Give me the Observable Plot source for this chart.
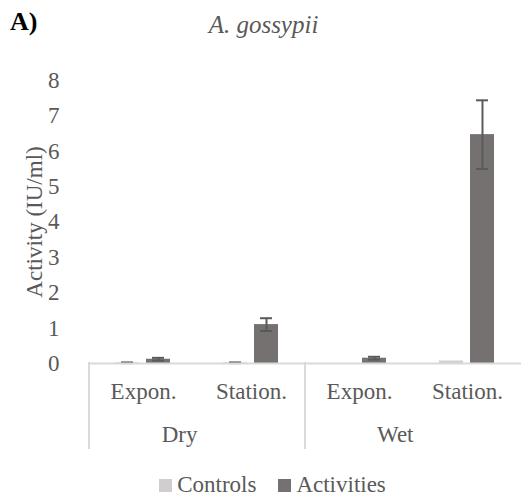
<!DOCTYPE html>
<html>
<head>
<meta charset="utf-8">
<script src="https://cdn.jsdelivr.net/npm/d3@7"></script>
<script src="https://cdn.jsdelivr.net/npm/@observablehq/plot@0.6"></script>
<style>
  html, body { margin: 0; padding: 0; background: #fff; overflow: hidden; }
  #wrap { width: 521px; height: 503px; position: relative; font-family: 'Liberation Serif', 'DejaVu Serif', serif; color: #595959; }
  #head { height: 50px; position: relative; }
  #panel { position: absolute; left: 10px; top: 9px; font-size: 26px; line-height: 26px; font-weight: bold; color: #000; }
  #title { position: absolute; left: 3px; width: 521px; top: 12px; font-size: 25px; line-height: 25px; font-style: italic; text-align: center; color: #595959; }
  #chart svg { display: block; overflow: visible; }
  #chart svg text { font-family: 'Liberation Serif', 'DejaVu Serif', serif; }
  #legend { height: 43px; display: flex; justify-content: center; align-items: flex-start; padding-left: 24px; box-sizing: border-box; padding-top: 13px; }
  .item { display: flex; align-items: center; font-size: 23px; line-height: 23px; margin: 0 11px; }
  .sw { width: 13px; height: 13px; margin-right: 5px; margin-top: 2px; }
</style>
</head>
<body>
<div id="wrap">
  <div id="head"><div id="panel">A)</div><div id="title">A. gossypii</div></div>
  <div id="chart"></div>
  <div id="legend"></div>
</div>
<script>
// ---- data ----
const groups = ["Dry", "Wet"];
const phases = ["Expon.", "Station."];
const series = ["Controls", "Activities"];
// order: Dry-Expon., Dry-Station., Wet-Expon., Wet-Station.
const controlsMean = [0.02, 0.02, 0.00, 0.07];
const controlsErr = [0.01, 0.01, 0.00, 0.00];
const activitiesMean = [0.12, 1.10, 0.15, 6.47];
const activitiesErr = [0.04, 0.18, 0.04, 0.97];
const yTicks = [0, 1, 2, 3, 4, 5, 6, 7, 8];
const yLabel = "Activity (IU/ml)";
const colors = ["#d0cece", "#767171"];

// ---- build table ----
const keys = [];
groups.forEach(g => phases.forEach(p => keys.push(g + "|" + p)));
const rows = [];
keys.forEach((k, i) => {
  rows.push({key: k, series: "Controls", value: controlsMean[i], err: controlsErr[i]});
  rows.push({key: k, series: "Activities", value: activitiesMean[i], err: activitiesErr[i]});
});
const errRows = rows.filter(d => d.err > 0).map(d => ({...d, lo: d.value - d.err, hi: d.value + d.err}));
const groupFirst = groups.map(g => ({key: g + "|" + phases[0], label: g}));

const textColor = "#595959";
const axisGrey = "#d9d9d9";
const serif = "'Liberation Serif', 'DejaVu Serif', serif";

const plot = Plot.plot({
  width: 521,
  height: 410,
  marginTop: 30,
  marginBottom: 97,
  marginLeft: 89,
  marginRight: 0,
  style: {fontFamily: serif, fontSize: "23px", color: textColor, background: "transparent"},
  fx: {domain: keys, padding: 0, axis: null},
  x: {domain: series, paddingInner: 0.22, paddingOuter: 0.84, axis: null},
  y: {domain: [0, 8], axis: null},
  color: {domain: series, range: colors},
  marks: [
    Plot.axisY({ticks: yTicks, tickSize: 0, tickPadding: 30, label: yLabel, labelAnchor: "center", labelOffset: 64, labelArrow: "none", fontSize: 23, fontFamily: serif}),
    Plot.axisFx({anchor: "bottom", tickSize: 0, tickPadding: 19, tickFormat: d => d.split("|")[1], label: null, fontSize: 23, fontFamily: serif}),
    Plot.barY(rows, {fx: "key", x: "series", y: "value", fill: "series"}),
    Plot.ruleX(errRows, {fx: "key", x: "series", y1: "lo", y2: "hi", stroke: "#5a5a5a", strokeWidth: 2}),
    Plot.tickY(errRows, {fx: "key", x: "series", y: "lo", stroke: "#5a5a5a", strokeWidth: 2, insetLeft: 6, insetRight: 6}),
    Plot.tickY(errRows, {fx: "key", x: "series", y: "hi", stroke: "#5a5a5a", strokeWidth: 2, insetLeft: 6, insetRight: 6}),
    Plot.ruleY([0], {stroke: axisGrey, strokeWidth: 2}),
    Plot.text(groupFirst, {fx: "key", text: "label", frameAnchor: "bottom-right", lineAnchor: "top", dy: 62, fill: textColor, fontSize: 23, fontFamily: serif})
  ]
});
document.getElementById("chart").appendChild(plot);

// category separators drawn with the plot's own scales
const fxScale = plot.scale("fx");
const yScale = plot.scale("y");
const y0 = yScale.apply(0);
const sepKeys = groupFirst.map(d => d.key);
const svg = d3.select(plot);
sepKeys.forEach(k => {
  const x = fxScale.apply(k);
  svg.append("line").attr("x1", x).attr("x2", x).attr("y1", y0 - 1).attr("y2", y0 + 86)
    .attr("stroke", axisGrey).attr("stroke-width", 2);
});

// legend
const legend = d3.select("#legend");
const colorScale = plot.scale("color");
colorScale.domain.forEach((s, i) => {
  const item = legend.append("div").attr("class", "item");
  item.append("div").attr("class", "sw").style("background", colorScale.range[i]);
  item.append("span").text(s);
});
</script>
</body>
</html>
